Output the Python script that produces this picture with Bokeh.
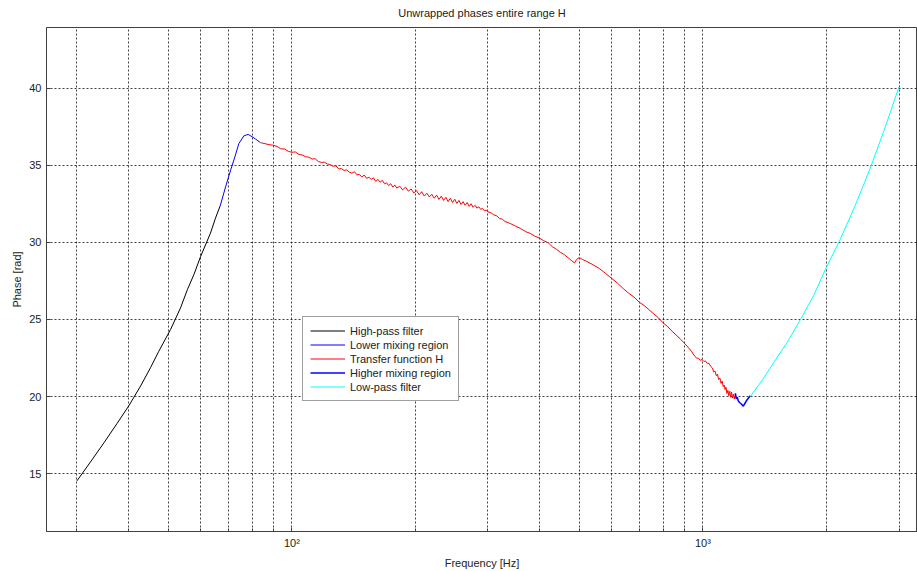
from bokeh.plotting import figure
from bokeh.models import Range1d, FixedTicker, Legend, LegendItem, Title
from bokeh.embed import file_html
from bokeh.resources import INLINE

# ---- data ----
hp_f = [30, 32.37, 34.9, 37.6, 40.1, 42.85, 45.3, 47.47, 50.7, 53.6, 55.7, 57.75, 60.0, 63.4, 65.2, 67.0]
hp_ph = [14.53, 15.76, 17.0, 18.27, 19.39, 20.68, 21.87, 22.94, 24.35, 25.75, 26.93, 27.9, 29.09,
         30.6, 31.57, 32.4]

lm_f = [67.0, 69.0, 71.0, 72.8, 74.3, 76.4, 78.3, 80.0, 81.6, 83.9]
lm_ph = [32.4, 33.6, 34.7, 35.6, 36.4, 36.9, 37.0, 36.85, 36.7, 36.46]

tf_f = [84, 86, 88, 90, 92, 94, 96, 98, 100, 102, 104, 106, 108, 110, 112, 114, 116, 118, 120,
        122, 124, 126, 128, 130, 132, 134, 136, 138, 140, 142, 144, 146, 148, 150, 152, 154, 156,
        158, 160, 162, 164, 166, 168, 170, 172, 174, 176, 178, 180, 183, 186, 189, 192, 195, 198,
        201, 204, 207, 210, 213, 216, 219, 222, 225, 228, 231, 234, 237, 240, 243, 246, 249, 252,
        255, 258, 261, 264, 267, 270, 273, 276, 279, 282, 285, 288, 291, 294, 297, 300, 305, 310,
        315, 320, 325, 330, 340, 350, 360, 370, 380, 390, 400, 410, 420, 430, 440, 450, 460, 470,
        480, 487, 492, 497, 503, 510, 520, 540, 560, 580, 600, 620, 640, 660, 680, 700, 720, 740,
        760, 780, 800, 820, 840, 860, 880, 900, 920, 940, 955, 965, 975, 985, 995, 1005, 1015, 1025,
        1035, 1045, 1055, 1062, 1070, 1078, 1085, 1092, 1100, 1107, 1114, 1120, 1126, 1132, 1138,
        1144, 1150, 1156, 1162, 1168, 1174, 1180, 1186, 1192, 1198]
tf_ph = [36.46, 36.40, 36.33, 36.30, 36.22, 36.06, 36.05, 35.90, 35.84, 35.86, 35.70, 35.66, 35.55,
         35.52, 35.40, 35.42, 35.24, 35.18, 35.20, 35.08, 35.04, 34.93, 34.96, 34.76, 34.78, 34.66,
         34.70, 34.55, 34.48, 34.58, 34.38, 34.40, 34.24, 34.36, 34.15, 34.22, 34.08, 34.18, 33.95,
         34.08, 33.90, 34.02, 33.80, 33.86, 33.68, 33.80, 33.58, 33.72, 33.52, 33.64, 33.40, 33.58,
         33.32, 33.46, 33.20, 33.36, 33.08, 33.28, 33.00, 33.18, 32.94, 33.12, 32.86, 33.06, 32.78,
         33.00, 32.72, 32.92, 32.64, 32.86, 32.58, 32.80, 32.52, 32.72, 32.45, 32.64, 32.40, 32.58,
         32.33, 32.50, 32.27, 32.40, 32.22, 32.30, 32.14, 32.20, 32.04, 32.10, 31.98, 31.92, 31.78,
         31.72, 31.55, 31.50, 31.35, 31.22, 31.05, 30.90, 30.70, 30.58, 30.40, 30.28, 30.10, 29.98,
         29.72, 29.55, 29.35, 29.20, 29.00, 28.80, 28.66, 28.85, 28.98, 28.98, 28.88, 28.78, 28.55,
         28.30, 27.98, 27.66, 27.35, 27.00, 26.70, 26.45, 26.12, 25.90, 25.62, 25.35, 25.10, 24.78,
         24.55, 24.25, 24.00, 23.75, 23.48, 23.20, 22.90, 22.62, 22.50, 22.48, 22.35, 22.40, 22.28,
         22.30, 22.15, 22.15, 21.95, 21.85, 21.60, 21.65, 21.35, 21.45, 21.10, 21.20, 20.85, 21.00,
         20.65, 20.75, 20.45, 20.60, 20.20, 20.40, 20.05, 20.35, 19.95, 20.30, 19.90, 20.15, 19.85,
         20.10]

hm_f = [1198, 1200, 1205, 1212, 1220, 1230, 1240, 1254, 1265, 1280, 1295, 1304]
hm_ph = [20.10, 20.20, 19.85, 19.95, 19.70, 19.60, 19.52, 19.38, 19.55, 19.78, 19.95, 20.05]

lp_f = [1304, 1395, 1486, 1605, 1733, 1862, 1985, 2159, 2323, 2450, 2571, 2752, 2880, 3000]
lp_ph = [20.0, 21.07, 22.19, 23.53, 25.06, 26.57, 28.23, 30.2, 32.11, 33.6, 35.02, 37.18, 38.7, 40.09]

x_major = [100, 1000]
x_minor = [30, 40, 50, 60, 70, 80, 90, 200, 300, 400, 500, 600, 700, 800, 900, 2000, 3000]
y_ticks = [15, 20, 25, 30, 35, 40]
x_labels = {100: "10²", 1000: "10³"}

FONT = "Liberation Sans"

p = figure(width=917, height=571, x_axis_type="log", output_backend="svg",
           toolbar_location=None,
           x_range=Range1d(25.3, 3327), y_range=Range1d(11.25, 43.93),
           min_border_left=46, min_border_right=0, min_border_top=27, min_border_bottom=39)
p.background_fill_color = "white"
p.border_fill_color = "white"
p.outline_line_color = "#404040"
p.outline_line_width = 1

# real title, with a thin empty spacer title between it and the frame
p.title = Title(text="Unwrapped phases entire range H", align="center",
                text_font=FONT, text_font_size="11px", text_font_style="normal",
                text_color="#222222", offset=0, standoff=0)
p.add_layout(Title(text=" ", text_font=FONT, text_font_size="7px", standoff=0, offset=0), "above")

# axes
xa = p.xaxis[0]
xa.ticker = FixedTicker(ticks=x_major, minor_ticks=x_minor)
xa.major_label_overrides = x_labels
xa.axis_label = "Frequency [Hz]"
ya = p.yaxis[0]
ya.ticker = FixedTicker(ticks=y_ticks)
ya.axis_label = "Phase [rad]"
for ax in (xa, ya):
    ax.major_tick_in = 4
    ax.major_tick_out = 0
    ax.minor_tick_in = 3
    ax.minor_tick_out = 0
    ax.axis_line_color = "#404040"
    ax.major_tick_line_color = "#404040"
    ax.minor_tick_line_color = "#404040"
    ax.major_label_text_font = FONT
    ax.major_label_text_font_size = "11px"
    ax.major_label_text_color = "#222222"
    ax.axis_label_text_font = FONT
    ax.axis_label_text_font_size = "11px"
    ax.axis_label_text_font_style = "normal"
    ax.axis_label_text_color = "#222222"
    ax.major_label_standoff = 5
    ax.axis_label_standoff = 5
ya.axis_label_standoff = 3
ya.minor_tick_line_color = None

# grids
p.xgrid.ticker = FixedTicker(ticks=sorted(x_major + x_minor))
p.ygrid.ticker = FixedTicker(ticks=y_ticks)
for g in (p.xgrid, p.ygrid):
    g.grid_line_color = "black"
    g.grid_line_alpha = 0.75
    g.grid_line_dash = "2 2"
    g.grid_line_width = 1

r1 = p.line(hp_f, hp_ph, line_color="black", line_width=1)
r2 = p.line(lm_f, lm_ph, line_color="blue", line_width=1)
r3 = p.line(tf_f, tf_ph, line_color="red", line_width=1)
r4 = p.line(hm_f, hm_ph, line_color="blue", line_width=1.5)
r5 = p.line(lp_f, lp_ph, line_color="cyan", line_width=1)

legend = Legend(items=[
    LegendItem(label="High-pass filter", renderers=[r1]),
    LegendItem(label="Lower mixing region", renderers=[r2]),
    LegendItem(label="Transfer function H", renderers=[r3]),
    LegendItem(label="Higher mixing region", renderers=[r4]),
    LegendItem(label="Low-pass filter", renderers=[r5]),
], location=(256, 130))
legend.label_text_font = FONT
legend.label_text_font_size = "11px"
legend.label_text_color = "#222222"
legend.label_height = 13
legend.glyph_height = 13
legend.glyph_width = 35
legend.label_standoff = 5
legend.spacing = 1
legend.padding = 7
legend.margin = 0
legend.border_line_color = "#404040"
legend.border_line_width = 1
legend.background_fill_color = "white"
legend.background_fill_alpha = 1
p.add_layout(legend, "center")

open("out.html", "w").write(file_html(p, INLINE))
